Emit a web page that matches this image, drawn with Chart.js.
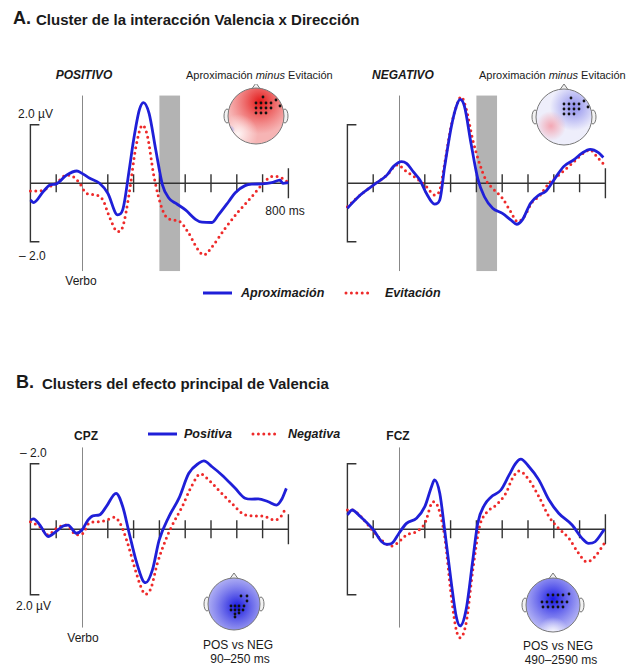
<!DOCTYPE html>
<html>
<head>
<meta charset="utf-8">
<script src="https://cdn.jsdelivr.net/npm/chart.js@4/dist/chart.umd.min.js"></script>
<style>
  body { margin: 0; background: #fff; width: 631px; height: 667px; overflow: hidden; position: relative;
         font-family: Arial, "Liberation Sans", Helvetica, sans-serif; color: #1a1a1a; }
  canvas { position: absolute; }
  .t { position: absolute; white-space: nowrap; line-height: 1; transform: translateY(-50%); }
  .c { transform: translate(-50%, -50%); text-align: center; }
  .b { font-weight: bold; }
  .bi { font-weight: bold; font-style: italic; }
  svg { position: absolute; overflow: visible; }
</style>
</head>
<body>

<!-- titles -->
<div class="t b" style="left:13px;top:18px;font-size:18px">A.</div>
<div class="t b" style="left:36px;top:19px;font-size:15px">Cluster de la interacción Valencia x Dirección</div>
<div class="t b" style="left:16px;top:382px;font-size:18px">B.</div>
<div class="t b" style="left:42px;top:383px;font-size:15px">Clusters del efecto principal de Valencia</div>

<!-- panel A labels -->
<div class="t c bi" style="left:84px;top:75px;font-size:12px">POSITIVO</div>
<div class="t" style="left:186px;top:75px;font-size:11px">Aproximación <i>minus</i> Evitación</div>
<div class="t c bi" style="left:403px;top:75px;font-size:12px">NEGATIVO</div>
<div class="t" style="left:479px;top:75px;font-size:11px">Aproximación <i>minus</i> Evitación</div>
<div class="t" style="left:18px;top:114px;font-size:12px">2.0 µV</div>
<div class="t" style="left:19px;top:256px;font-size:12px">– 2.0</div>
<div class="t c" style="left:81px;top:281px;font-size:12px">Verbo</div>
<div class="t c" style="left:285px;top:211px;font-size:12px">800 ms</div>

<svg style="left:203px;top:293px" width="30" height="1"><line x1="0" y1="0" x2="29" y2="0" stroke="#1f1fd8" stroke-width="3"/></svg>
<div class="t bi" style="left:241px;top:293px;font-size:12.5px">Aproximación</div>
<svg style="left:346px;top:293px" width="30" height="1"><line x1="0" y1="0" x2="27" y2="0" stroke="#ee2a2a" stroke-width="3" stroke-linecap="round" stroke-dasharray="0 5.4"/></svg>
<div class="t bi" style="left:385px;top:293px;font-size:12.5px">Evitación</div>

<!-- panel B labels -->
<div class="t c b" style="left:86px;top:436px;font-size:12px">CPZ</div>
<div class="t c b" style="left:398px;top:436px;font-size:12px">FCZ</div>
<svg style="left:148px;top:434px" width="30" height="1"><line x1="0" y1="0" x2="29" y2="0" stroke="#1f1fd8" stroke-width="3"/></svg>
<div class="t bi" style="left:184px;top:434px;font-size:12.5px">Positiva</div>
<svg style="left:253px;top:434px" width="30" height="1"><line x1="0" y1="0" x2="27" y2="0" stroke="#ee2a2a" stroke-width="3" stroke-linecap="round" stroke-dasharray="0 5.4"/></svg>
<div class="t bi" style="left:288px;top:434px;font-size:12.5px">Negativa</div>
<div class="t" style="left:20px;top:453px;font-size:12px">– 2.0</div>
<div class="t" style="left:16px;top:606px;font-size:12px">2.0 µV</div>
<div class="t c" style="left:83px;top:638px;font-size:12px">Verbo</div>
<div class="t c" style="left:238px;top:645px;font-size:12px">POS vs NEG</div>
<div class="t c" style="left:240px;top:659px;font-size:12px">90–250 ms</div>
<div class="t c" style="left:558px;top:646px;font-size:12px">POS vs NEG</div>
<div class="t c" style="left:561px;top:660px;font-size:12px">490–2590 ms</div>

<canvas id="ch_a_pos"></canvas>
<canvas id="ch_a_neg"></canvas>
<canvas id="ch_b_cpz"></canvas>
<canvas id="ch_b_fcz"></canvas>

<script>
/* ── data: time (ms) + amplitude (µV) ─────────────────────────── */
const TICKS_MS = [-100, 100, 200, 300, 400, 500, 600, 700, 800];
const SHADE_MS = [300, 380];

// A — POSITIVO
const posTimeAprox = [-200,-188,-150,-124,-100,-60,-20,0,30,68,100,138,158,183,200,222,238,260,286,312,337,363,401,440,465,504,529,568,594,632,658,696,735,767,779,800];
const posAprox     = [-0.57,-0.66,-0.28,-0.06,-0.02,0.28,0.42,0.34,0.17,0,-0.34,-1.08,-0.9,0.46,1.48,2.5,2.76,2.39,1.14,-0.06,-0.51,-0.68,-0.91,-1.23,-1.33,-1.34,-1.08,-0.63,-0.32,-0.08,-0.03,-0.02,0.02,0.11,0,0.02];
const posTimeEvit  = [-200,-163,-124,-100,-60,-35,-9,17,55,81,106,138,158,183,209,235,254,279,312,337,376,414,446,472,504,555,606,658,703,735,760,786,800];
const posEvit      = [-0.26,-0.26,-0.11,0,0.28,0.23,0,-0.34,-0.40,-0.57,-1.14,-1.65,-1.48,-0.34,1.25,1.99,1.6,0.23,-0.91,-1.22,-1.29,-1.71,-2.22,-2.45,-2.17,-1.54,-0.97,-0.46,0,0.23,0.23,0.11,0.02];

// A — NEGATIVO
const negTimeAprox = [-200,-150,-99,-47,-22,10,29,55,81,106,138,158,177,203,222,237,254,279,305,331,363,401,433,456,478,510,542,568,600,638,677,709,741,773,792];
const negAprox     = [-0.85,-0.40,-0.06,0.28,0.57,0.74,0.68,0.40,0.11,-0.34,-0.71,-0.57,0.57,1.94,2.62,2.87,2.62,1.37,0.17,-0.46,-0.85,-1.03,-1.25,-1.40,-1.25,-0.68,-0.40,-0.28,0.11,0.57,0.80,1.03,1.16,1.05,0.88];
const negTimeEvit  = [-200,-150,-99,-47,-6,29,68,106,138,158,177,203,222,241,260,286,312,337,363,401,433,459,485,517,542,581,619,671,722,741,767,800];
const negEvit      = [-0.80,-0.40,-0.06,0.28,0.63,0.40,0.17,-0.11,-0.40,-0.23,0.68,1.99,2.62,2.96,2.56,1.48,0.68,0.11,-0.17,-0.51,-0.97,-1.31,-1.14,-0.63,-0.46,0,0.28,0.68,1.08,1.14,0.91,0.59];

// B — CPZ (negative up)
const cpzTimePos = [-200,-188,-163,-131,-101,-73,-54,-22,0,23,42,68,94,132,158,183,209,235,247,273,299,337,376,414,453,472,504,542,594,632,658,683,722,754,773,792];
const cpzPos     = [-0.28,-0.32,-0.13,0.22,0.07,-0.10,-0.13,0.12,0.02,-0.28,-0.41,-0.44,-0.69,-1.10,-0.69,0.12,0.94,1.55,1.63,1.24,0.33,-0.39,-0.95,-1.71,-2.02,-2.09,-1.91,-1.66,-1.25,-0.95,-0.92,-0.93,-0.84,-0.74,-0.90,-1.25];
const cpzTimeNeg = [-200,-163,-131,-99,-60,-22,4,29,68,94,126,151,177,203,228,245,267,292,324,350,388,427,459,491,529,581,632,671,709,747,773,792];
const cpzNeg     = [-0.23,-0.08,0.17,-0.03,-0.13,0.17,0.12,-0.20,-0.23,-0.28,-0.37,-0.13,0.43,1.14,1.75,1.98,1.80,1.04,0.33,-0.13,-0.69,-1.35,-1.69,-1.51,-1.20,-0.79,-0.44,-0.41,-0.39,-0.28,-0.41,-0.69];

// B — FCZ (negative up)
const fczTimePos = [-200,-182,-150,-99,-67,-47,-28,0,29,68,100,126,138,158,177,203,222,237,260,286,305,331,356,395,427,453,472,504,542,581,619,671,709,735,760,796];
const fczPos     = [-0.44,-0.59,-0.39,0.02,0.38,0.46,0.43,0.12,-0.18,-0.34,-0.69,-1.30,-1.51,-1.10,0.02,1.65,2.67,2.95,2.46,0.94,-0.18,-0.74,-0.98,-1.20,-1.66,-2.02,-2.14,-1.91,-1.51,-0.90,-0.49,-0.13,0.27,0.43,0.38,0];
const fczTimeNeg = [-200,-182,-150,-99,-60,-28,0,29,68,100,132,151,177,203,222,237,260,286,312,337,376,414,440,465,504,542,581,619,658,696,728,760,796];
const fczNeg     = [-0.59,-0.59,-0.41,0.07,0.38,0.51,0.38,0.17,0.07,-0.18,-0.84,-0.69,0.22,2.06,3.07,3.31,2.87,1.24,-0.08,-0.49,-0.74,-1.10,-1.56,-1.78,-1.51,-1.00,-0.39,-0.03,0.27,0.73,0.99,0.83,0.43];

/* ── styling ──────────────────────────────────────────────────── */
const BLUE = '#1f1fd8', RED = '#ee2a2a', AXIS = '#333', PX_PER_MS = 0.258;

const pts = (t, v) => t.map((x, i) => ({ x, y: v[i] }));

// electrode dots, offsets from head centre
const DOTS_A = [[7,-19],[0,-13],[5,-13],[10,-13],[15,-13],[20,-16],[0,-8],[5,-8],[10,-8],[15,-8],[24,-10],[0,-3],[5,-3],[10,-3]];
const DOTS_CPZ = [[7,-8],[13,-8],[13,-3],[-3,2],[1,2],[5,2],[10,2],[-3,6],[1,6],[5,6],[9,6],[1,10],[5,9],[1,13]];
const DOTS_FCZ = [[-5,-10],[0,-10],[5,-10],[10,-10],[16,-11],[-11,-3],[-6,-3],[-1,-3],[4,-3],[9,-3],[14,-3],[-10,2],[-5,2],[0,2],[5,2],[10,2]];

function blob(ctx, x, y, r, inner, outer) {
  const g = ctx.createRadialGradient(x, y, 0, x, y, r);
  g.addColorStop(0, inner); g.addColorStop(1, outer);
  ctx.fillStyle = g;
  ctx.fillRect(x - r, y - r, 2 * r, 2 * r);
}

function drawHead(ctx, h) {
  const { cx, cy, r } = h;
  ctx.save();
  ctx.strokeStyle = '#777'; ctx.lineWidth = 1; ctx.fillStyle = '#f2f2f2';
  [-1, 1].forEach(s => {
    ctx.beginPath(); ctx.ellipse(cx + s * (r + 1), cy, 3, 7, 0, 0, Math.PI * 2); ctx.fill(); ctx.stroke();
  });
  ctx.beginPath(); ctx.moveTo(cx - 5, cy - r + 2); ctx.lineTo(cx, cy - r - 5); ctx.lineTo(cx + 5, cy - r + 2);
  ctx.closePath(); ctx.fill(); ctx.stroke();

  ctx.save();
  ctx.beginPath(); ctx.arc(cx, cy, r, 0, Math.PI * 2); ctx.clip();
  h.paint(ctx, cx, cy, r);
  ctx.restore();
  ctx.beginPath(); ctx.arc(cx, cy, r, 0, Math.PI * 2); ctx.stroke();

  ctx.fillStyle = '#111';
  h.dots.forEach(([dx, dy]) => { ctx.beginPath(); ctx.arc(cx + dx, cy + dy, 1.4, 0, Math.PI * 2); ctx.fill(); });
  ctx.restore();
}

const PAINT = {
  red: (ctx, cx, cy, r) => {
    ctx.fillStyle = '#f6b4b4'; ctx.fillRect(cx - r, cy - r, 2 * r, 2 * r);
    blob(ctx, cx + 4, cy - 14, 32, 'rgba(226,22,22,1)', 'rgba(236,60,60,0)');
    blob(ctx, cx - 18, cy + 18, 20, 'rgba(255,250,250,0.95)', 'rgba(255,240,240,0)');
    blob(ctx, cx - 26, cy + 14, 5, 'rgba(120,140,255,0.8)', 'rgba(120,140,255,0)');
  },
  pale: (ctx, cx, cy, r) => {
    ctx.fillStyle = '#eeeefb'; ctx.fillRect(cx - r, cy - r, 2 * r, 2 * r);
    blob(ctx, cx + 10, cy - 10, 24, 'rgba(110,110,232,0.75)', 'rgba(110,110,232,0)');
    blob(ctx, cx - 13, cy + 9, 15, 'rgba(244,160,172,0.9)', 'rgba(244,160,172,0)');
  },
  blueC: (ctx, cx, cy, r) => {
    ctx.fillStyle = '#aeaef3'; ctx.fillRect(cx - r, cy - r, 2 * r, 2 * r);
    blob(ctx, cx + 3, cy + 3, 30, 'rgba(22,22,222,1)', 'rgba(60,60,230,0)');
  },
  blueF: (ctx, cx, cy, r) => {
    ctx.fillStyle = '#b8b8f5'; ctx.fillRect(cx - r, cy - r, 2 * r, 2 * r);
    blob(ctx, cx, cy - 6, 32, 'rgba(24,24,228,1)', 'rgba(60,60,232,0)');
    blob(ctx, cx, cy + 28, 16, 'rgba(255,255,255,0.95)', 'rgba(255,255,255,0)');
  }
};

/* ── plugin: baseline, ticks, µV bracket, Verbo line, shading, head ─ */
const erpAxes = {
  id: 'erpAxes',
  beforeDatasetsDraw(chart, args, o) {
    const { ctx } = chart, xs = chart.scales.x, ys = chart.scales.y;
    const X = v => xs.getPixelForValue(v), Y = v => ys.getPixelForValue(v);
    ctx.save();
    if (o.shade) {
      ctx.fillStyle = '#b3b3b3';
      const y1 = Y(o.vline[0]), y2 = Y(o.vline[1]);
      ctx.fillRect(X(SHADE_MS[0]), Math.min(y1, y2), X(SHADE_MS[1]) - X(SHADE_MS[0]), Math.abs(y2 - y1));
    }
    // onset line
    ctx.strokeStyle = '#888'; ctx.lineWidth = 1;
    ctx.beginPath(); ctx.moveTo(X(0) + 0.5, Y(o.vline[0])); ctx.lineTo(X(0) + 0.5, Y(o.vline[1])); ctx.stroke();
    // baseline + ticks
    ctx.strokeStyle = AXIS; ctx.lineWidth = 1.4;
    const y0 = Y(0);
    ctx.beginPath(); ctx.moveTo(X(-200), y0); ctx.lineTo(X(800), y0);
    TICKS_MS.forEach(t => {
      const hh = t === 800 ? 15 : 9;
      ctx.moveTo(X(t), y0 - hh); ctx.lineTo(X(t), y0 + hh);
    });
    ctx.stroke();
    // amplitude bracket
    const bx = X(-200);
    ctx.beginPath();
    ctx.moveTo(bx + 9, Y(2)); ctx.lineTo(bx, Y(2)); ctx.lineTo(bx, Y(-2)); ctx.lineTo(bx + 9, Y(-2));
    ctx.stroke();
    ctx.restore();
  },
  afterDraw(chart, args, o) {
    if (!o.head) return;
    const h = o.head;
    drawHead(chart.ctx, { cx: h.cx - o.left, cy: h.cy - o.top, r: h.r, dots: h.dots, paint: PAINT[h.paint] });
  }
};
Chart.register(erpAxes);

function drawPanel(id, g, s1, s2) {
  const canvas = document.getElementById(id);
  canvas.width = g.w; canvas.height = g.h;
  canvas.style.left = g.left + 'px'; canvas.style.top = g.top + 'px';
  const xMin = (g.left - g.zeroX) / PX_PER_MS, xMax = (g.left + g.w - g.zeroX) / PX_PER_MS;
  const up = (g.baseY - g.top) / g.k, down = (g.top + g.h - g.baseY) / g.k;
  const y = g.negUp ? { min: -up, max: down, reverse: true } : { min: -down, max: up };

  return new Chart(canvas.getContext('2d'), {
    type: 'line',
    data: {
      datasets: [
        { data: s1, borderColor: BLUE, borderWidth: 2.8, pointRadius: 0, cubicInterpolationMode: 'monotone' },
        { data: s2, borderColor: RED, borderWidth: 3, borderDash: [0, 5.4], borderCapStyle: 'round',
          pointRadius: 0, cubicInterpolationMode: 'monotone' }
      ]
    },
    options: {
      responsive: false, animation: false, devicePixelRatio: 1,
      layout: { padding: 0 },
      plugins: {
        legend: { display: false }, tooltip: { enabled: false },
        erpAxes: { shade: g.shade, vline: g.vline, head: g.head, left: g.left, top: g.top }
      },
      scales: {
        x: { type: 'linear', display: false, min: xMin, max: xMax },
        y: Object.assign({ type: 'linear', display: false }, y)
      }
    }
  });
}

drawPanel('ch_a_pos',
  { left: 0, top: 84, w: 318, h: 196, zeroX: 82, baseY: 183.3, k: 29.25, shade: true, vline: [-3, 3],
    head: { cx: 256, cy: 116, r: 28, dots: DOTS_A, paint: 'red' } },
  pts(posTimeAprox, posAprox), pts(posTimeEvit, posEvit));

drawPanel('ch_a_neg',
  { left: 318, top: 84, w: 313, h: 196, zeroX: 399, baseY: 183.3, k: 29.25, shade: true, vline: [-3, 3],
    head: { cx: 564, cy: 117, r: 28, dots: DOTS_A, paint: 'pale' } },
  pts(negTimeAprox, negAprox), pts(negTimeEvit, negEvit));

drawPanel('ch_b_cpz',
  { left: 0, top: 440, w: 318, h: 202, zeroX: 82, baseY: 529.3, k: 32.75, negUp: true, shade: false, vline: [-2.5, 3],
    head: { cx: 234, cy: 604, r: 26, dots: DOTS_CPZ, paint: 'blueC' } },
  pts(cpzTimePos, cpzPos), pts(cpzTimeNeg, cpzNeg));

drawPanel('ch_b_fcz',
  { left: 318, top: 440, w: 313, h: 202, zeroX: 399, baseY: 529.3, k: 32.75, negUp: true, shade: false, vline: [-2.5, 3],
    head: { cx: 553, cy: 605, r: 27, dots: DOTS_FCZ, paint: 'blueF' } },
  pts(fczTimePos, fczPos), pts(fczTimeNeg, fczNeg));
</script>
</body>
</html>
